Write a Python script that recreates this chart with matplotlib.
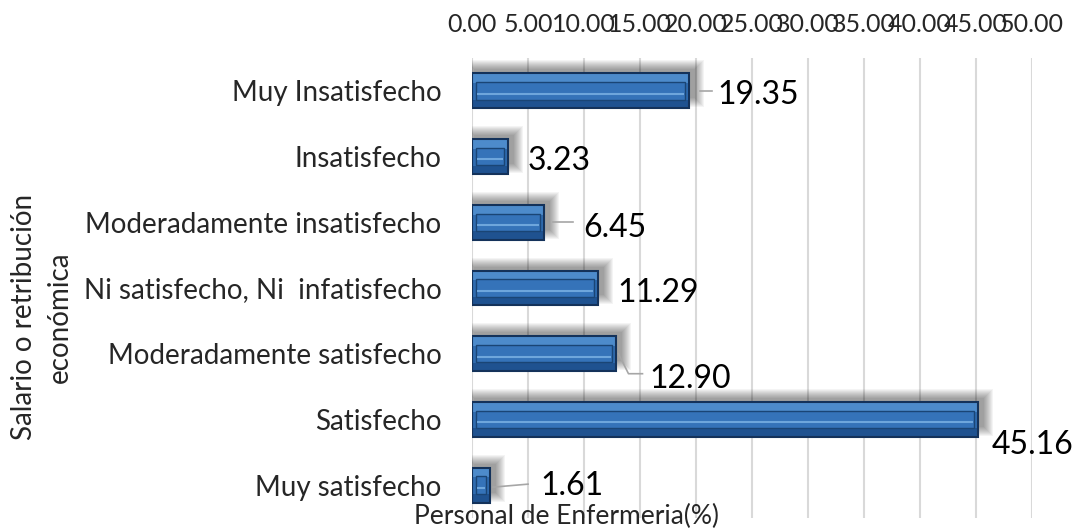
import numpy as np
import matplotlib
matplotlib.use("Agg")
import matplotlib.pyplot as plt

plt.rcParams['font.family'] = ['Lato', 'DejaVu Sans']

# =============================
# DATA
# =============================
categories = [
    "Muy Insatisfecho",
    "Insatisfecho",
    "Moderadamente insatisfecho",
    "Ni satisfecho, Ni  infatisfecho",
    "Moderadamente satisfecho",
    "Satisfecho",
    "Muy satisfecho",
]
values = [19.35, 3.23, 6.45, 11.29, 12.90, 45.16, 1.61]
x_ticks = [0, 5, 10, 15, 20, 25, 30, 35, 40, 45, 50]

# label offsets from the bar end, in pixels (right, down)
label_off = [(29, 1), (19, 1), (39, 3), (19, 2), (33, 22), (14, 23), (50, -2)]
leaders = [
    [(11, 0), (23, 0)],
    None,
    [(9, 0), (29, 0)],
    None,
    [(2, 0), (12, 20), (26, 20)],
    None,
    [(3, 2), (38, -1)],
]

# =============================
# FIGURE
# =============================
W, H = 1078, 528
fig = plt.figure(figsize=(W / 100, H / 100), dpi=100)
ax = fig.add_axes([472 / W, 10 / H, 560 / W, 460 / H])

y = np.arange(len(categories))
v = np.array(values)
h = 0.53
ax.set_xlim(0, 50)
ax.set_ylim(len(categories) - 0.5, -0.5)

px = 50 / 560          # one pixel in x data units
py = 7 / 460           # one pixel in y data units

# soft drop shadow, offset up and right (stacked layers fake a blur)
for k in range(10):
    e = (9 - k) * 1.0
    ax.barh(y - 7 * py, v + (4 + 2 * e) * px, left=(2 - e) * px,
            height=h + (2 * e - 6) * py, color="black", alpha=0.045, lw=0, zorder=1)

# bevelled bars
ax.barh(y, v, height=h, color="#2F6BAF", lw=0, zorder=2)
ax.barh(y - h * 0.36, v, height=h * 0.28, color="#4D8BCB", lw=0, zorder=2)
ax.barh(y + h * 0.38, v, height=h * 0.24, color="#1F5290", lw=0, zorder=2)
inset = 4 * px
ax.barh(y, np.maximum(v - 2 * inset, 0.05), left=inset, height=h * 0.5,
        color="#3573B9", edgecolor="#1A4575", lw=1, zorder=3)
ax.hlines(y + h * 0.08, inset + px, np.maximum(v - inset - px, inset + 2 * px),
          color="#6EA6DC", lw=1.5, zorder=4)
ax.barh(y, v, height=h, fill=False, edgecolor="#14325A", lw=1.5, zorder=5)

# axes styling
ax.set_xticks(x_ticks)
ax.set_xticklabels([f"{t:.2f}" for t in x_ticks], fontsize=18, color="#262626")
ax.xaxis.tick_top()
ax.tick_params(axis="x", length=0, pad=16)
ax.set_yticks(y)
ax.set_yticklabels(categories, fontsize=20, color="#262626")
ax.tick_params(axis="y", length=0, pad=22)
ax.grid(axis="x", color="#D9D9D9", lw=1.5, zorder=0)
ax.set_axisbelow(True)
for s in ax.spines.values():
    s.set_visible(False)

# value labels and leader lines
for i, val in enumerate(values):
    dx, dy = label_off[i]
    ax.annotate(f"{val:.2f}", xy=(val, i), xytext=(dx, -dy), textcoords="offset pixels",
                ha="left", va="center_baseline", fontsize=23, color="black", zorder=6)
    if leaders[i]:
        x0, y0 = ax.transData.transform((val, i))
        xs = [x0 + p[0] for p in leaders[i]]
        ys = [y0 - p[1] for p in leaders[i]]
        fig.add_artist(plt.Line2D(xs, ys, transform=None, color="#A6A6A6", lw=1.2))

# axis titles
fig.text(42 / W, 1 - 317 / H, "Salario o retribución\neconómica", rotation=90,
         ha="center", va="center", fontsize=20, linespacing=1.45, color="#262626")
fig.text(567 / W, 1 - 516 / H, "Personal de Enfermeria(%)", ha="center", va="center",
         fontsize=19, color="#262626")

fig.savefig("out.png", dpi=100)
